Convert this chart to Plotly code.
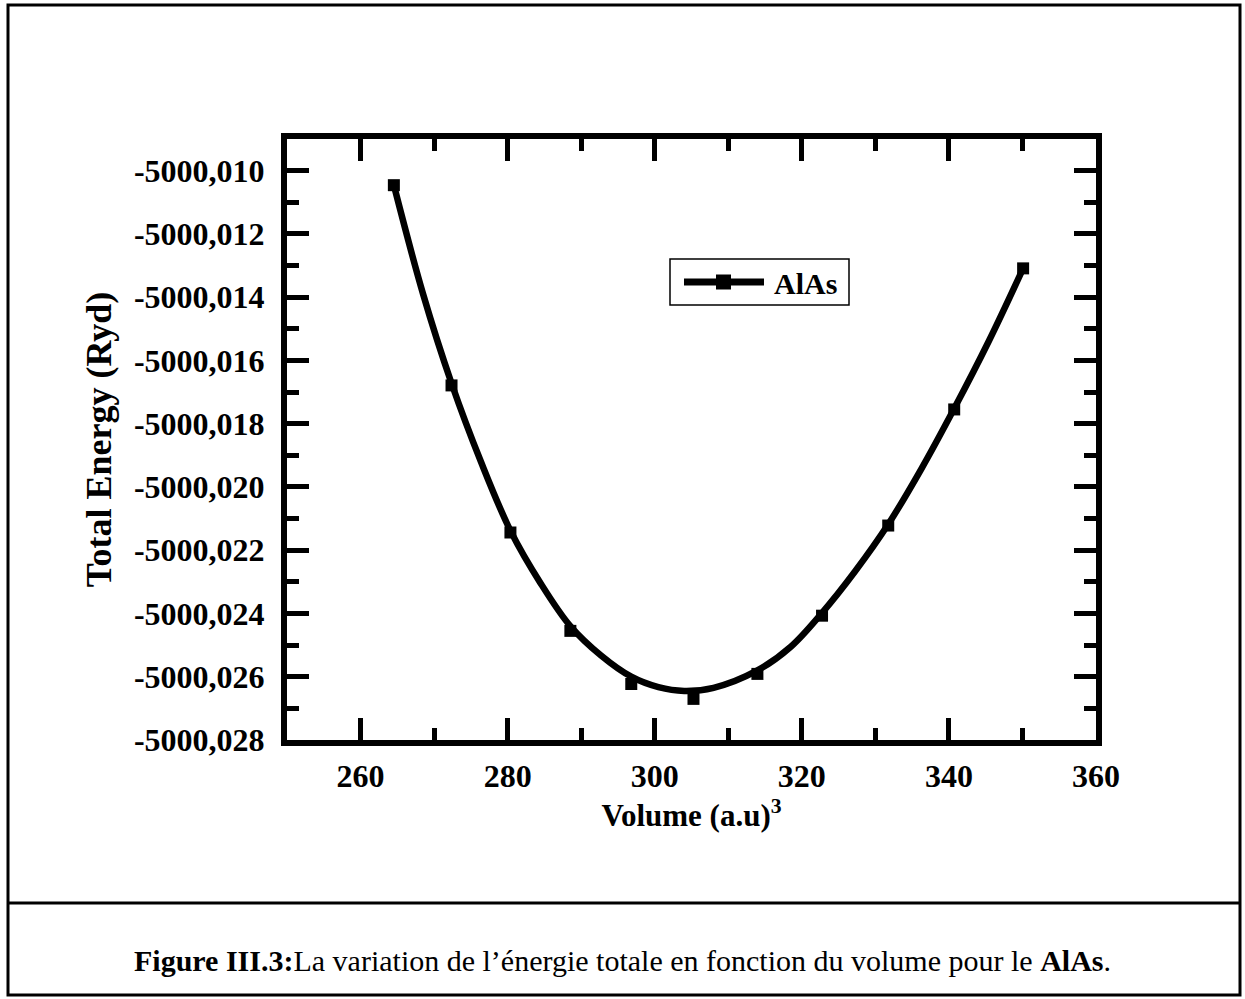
import plotly.graph_objects as go

# Calculated total energies of AlAs versus cell volume
volume = [264.53, 272.37, 280.38, 288.53, 296.81, 305.27, 313.96, 322.75, 331.75, 340.72, 350.09]
energy = [-5000.01046, -5000.01679, -5000.02144, -5000.02455, -5000.02623, -5000.02670,
          -5000.02591, -5000.02407, -5000.02122, -5000.01755, -5000.01309]

# Fitted equation-of-state curve
fit_volume = [264.53, 268.5, 272.37, 276.4, 280.38, 284.5, 288.53, 292.7, 296.81, 300.5,
              304.0, 308.0, 313.96, 318.5, 322.75, 327.2, 331.75, 336.2, 340.72, 345.4, 350.09]
fit_energy = [-5000.01046, -5000.01390, -5000.01672, -5000.01922, -5000.02138, -5000.02305,
              -5000.02440, -5000.02533, -5000.02600, -5000.02633, -5000.02645, -5000.02635,
              -5000.02580, -5000.02505, -5000.02398, -5000.02268, -5000.02118, -5000.01945,
              -5000.01752, -5000.01540, -5000.01309]

y_tick_values = [-5000.010, -5000.012, -5000.014, -5000.016, -5000.018, -5000.020,
                 -5000.022, -5000.024, -5000.026, -5000.028]
y_tick_labels = ["-5000,010", "-5000,012", "-5000,014", "-5000,016", "-5000,018",
                 "-5000,020", "-5000,022", "-5000,024", "-5000,026", "-5000,028"]
y_minor_values = [-5000.009, -5000.011, -5000.013, -5000.015, -5000.017, -5000.019,
                  -5000.021, -5000.023, -5000.025, -5000.027]

series_name = "AlAs"
caption = ("<b>Figure III.3:</b>La variation de l\u2019énergie totale en fonction du volume "
           "pour le <b>AlAs</b>.")

SERIF = "Liberation Serif"

fig = go.Figure()

fig.add_trace(go.Scatter(
    x=fit_volume, y=fit_energy, mode="lines",
    line=dict(color="black", width=6.5, shape="spline", smoothing=1.0),
    showlegend=False, hoverinfo="skip",
))
fig.add_trace(go.Scatter(
    x=volume, y=energy, mode="markers", name=series_name,
    marker=dict(symbol="square", size=12, color="black"),
    showlegend=False,
))

L, R, T, B = 287, 149, 139, 259
W, H = 1245 - L - R, 999 - T - B


def px(x):
    return (x - L) / W


def py(y):
    return (999 - B - y) / H


axis_common = dict(
    showline=True, linecolor="black", linewidth=6, mirror="allticks",
    ticks="inside", ticklen=22, tickwidth=5, tickcolor="black",
    showgrid=False, zeroline=False,
    tickfont=dict(family=SERIF, size=32, color="black", weight="bold"),
)

fig.update_xaxes(
    range=[250, 360], tickmode="linear", tick0=260, dtick=20,
    minor=dict(ticks="inside", ticklen=12, tickwidth=5, tickcolor="black", dtick=10, tick0=250),
    ticklabelstandoff=3,
    title=dict(text="Volume (a.u)<sup>3</sup>", standoff=12,
               font=dict(family=SERIF, size=31, color="black", weight="bold")),
    **axis_common,
)
fig.update_yaxes(
    range=[-5000.028, -5000.009], tickmode="array",
    tickvals=y_tick_values, ticktext=y_tick_labels,
    minor=dict(ticks="inside", ticklen=12, tickwidth=5, tickcolor="black",
               tickmode="array", tickvals=y_minor_values),
    ticklabelstandoff=10,
    title=dict(text="Total Energy (Ryd)", standoff=13,
               font=dict(family=SERIF, size=36, color="black", weight="bold")),
    **axis_common,
)

# legend box: frame, line sample with square marker, and label
fig.add_shape(type="rect", xref="paper", yref="paper",
              x0=px(670), x1=px(849), y0=py(305), y1=py(259),
              line=dict(color="black", width=1.5), fillcolor="white", layer="above")
fig.add_shape(type="line", xref="paper", yref="paper",
              x0=px(684), x1=px(764), y0=py(282), y1=py(282),
              line=dict(color="black", width=7), layer="above")
fig.add_shape(type="rect", xref="paper", yref="paper",
              x0=px(716), x1=px(731), y0=py(289.5), y1=py(274.5),
              line=dict(width=0), fillcolor="black", layer="above")
fig.add_annotation(
    xref="paper", yref="paper", x=px(772), y=py(283), xanchor="left", yanchor="middle",
    text="<b>" + series_name + "</b>", showarrow=False,
    font=dict(family=SERIF, size=30, color="black"),
)

# page frame and caption box
fig.add_shape(type="rect", xref="paper", yref="paper",
              x0=px(8), x1=px(1240), y0=py(995), y1=py(5),
              line=dict(color="black", width=3), layer="above")
fig.add_shape(type="line", xref="paper", yref="paper",
              x0=px(8), x1=px(1240), y0=py(903), y1=py(903),
              line=dict(color="black", width=3), layer="above")

fig.add_annotation(
    xref="paper", yref="paper", x=px(622), y=py(960), xanchor="center", yanchor="middle",
    text=caption, showarrow=False, font=dict(family=SERIF, size=30, color="black"),
)

fig.update_layout(
    width=1245, height=999,
    margin=dict(l=L, r=R, t=T, b=B, autoexpand=False),
    paper_bgcolor="white", plot_bgcolor="white",
    showlegend=False,
)

fig.write_html("out.html")
